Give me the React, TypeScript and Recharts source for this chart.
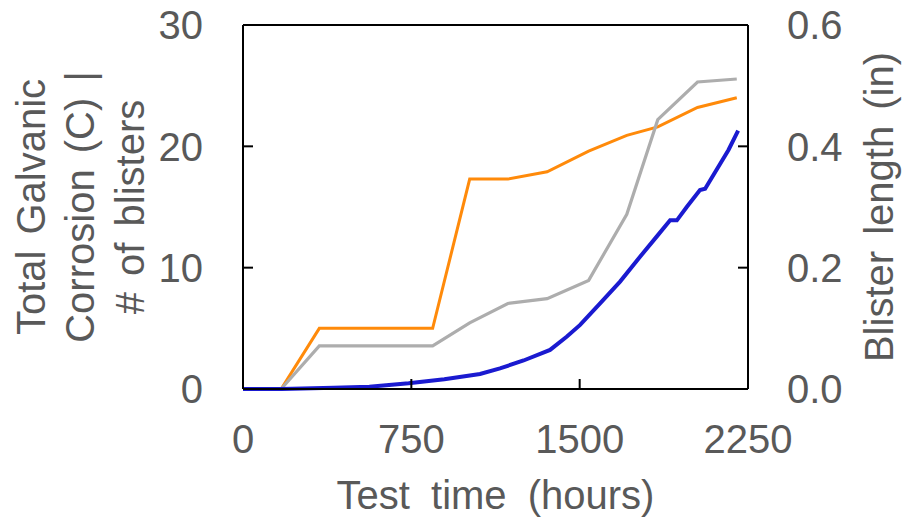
import { LineChart, Line, XAxis, YAxis, ReferenceLine } from "recharts";

// time axis (hours)
const xTicks = [0, 750, 1500, 2250];
const leftTicks = [0, 10, 20, 30];
const rightTicks = [0, 0.2, 0.4, 0.6];

// blister count
const blisterHours = [0, 170, 340, 845, 1010, 1180, 1355, 1540, 1710, 1848, 2025, 2200];
const blisterCount = [0, 0, 5, 5, 17.3, 17.3, 17.9, 19.6, 20.9, 21.6, 23.2, 24.0];

// blister length (in), grey line on right axis, same inspection times
const blisterLength = [0, 0, 0.071, 0.071, 0.109, 0.141, 0.149, 0.179, 0.288, 0.444, 0.506, 0.511];

// total galvanic corrosion (C), blue line
const corrHours = [0, 173, 404, 563, 738, 897, 1056, 1145, 1250, 1368, 1442, 1502, 1591, 1680, 1769, 1843, 1903, 1933, 1977, 2036, 2059, 2163, 2206];
const corrCharge = [0, 0, 0.11, 0.19, 0.47, 0.8, 1.24, 1.7, 2.35, 3.22, 4.31, 5.28, 7.06, 8.85, 10.9, 12.56, 13.9, 13.9, 15.0, 16.4, 16.5, 19.7, 21.3];

const countData = blisterHours.map((h, i) => ({ h, v: blisterCount[i] }));
const lengthData = blisterHours.map((h, i) => ({ h, v: blisterLength[i] }));
const corrData = corrHours.map((h, i) => ({ h, v: corrCharge[i] }));

const TEXT = "#595959";
const FONT = 40;

function RotatedLabel({ viewBox, lines, offsets }: any) {
  const cy = viewBox.y + viewBox.height / 2;
  return (
    <g>
      {lines.map((t: string, i: number) => (
        <text
          key={i}
          transform={`translate(${viewBox.x + offsets[i]},${cy}) rotate(-90)`}
          textAnchor="middle"
          fill={TEXT}
          fontSize={FONT}
          style={{ whiteSpace: "pre", wordSpacing: 5 }}
        >
          {t}
        </text>
      ))}
    </g>
  );
}

function BottomLabel({ viewBox }: any) {
  return (
    <text
      x={viewBox.x + viewBox.width / 2}
      y={viewBox.y + 120}
      textAnchor="middle"
      fill={TEXT}
      fontSize={FONT}
      style={{ whiteSpace: "pre", wordSpacing: 10 }}
    >
      Test time (hours)
    </text>
  );
}

const axisLine = { stroke: "#000", strokeWidth: 2 };
const tickStyle = { fill: TEXT, fontSize: FONT };

export default function App() {
  return (
    <div
      style={{
        position: "absolute",
        left: 0,
        top: 0,
        width: 902,
        height: 519,
        background: "#fff",
        fontFamily: "'Liberation Sans', Arial, sans-serif",
      }}
    >
      <LineChart width={902} height={519} margin={{ top: 25, right: 0, bottom: 0, left: 0 }}>
        <XAxis
          dataKey="h"
          type="number"
          domain={[0, 2250]}
          ticks={xTicks}
          height={130}
          tickSize={-10}
          tickMargin={46}
          axisLine={axisLine}
          tickLine={axisLine}
          tick={tickStyle}
          label={{ content: (p: any) => <BottomLabel {...p} /> }}
        />
        <YAxis
          yAxisId="left"
          domain={[0, 30]}
          ticks={leftTicks}
          width={243}
          tickSize={-10}
          tickMargin={50}
          axisLine={axisLine}
          tickLine={axisLine}
          tick={tickStyle}
          label={{
            content: (p: any) => (
              <RotatedLabel
                {...p}
                lines={["Total Galvanic", "Corrosion (C) |", "# of blisters"]}
                offsets={[45, 94, 144]}
              />
            ),
          }}
        />
        <YAxis
          yAxisId="right"
          orientation="right"
          domain={[0, 0.6]}
          ticks={rightTicks}
          width={154}
          tickSize={-10}
          tickMargin={49}
          axisLine={axisLine}
          tickLine={axisLine}
          tick={tickStyle}
          tickFormatter={(v: number) => v.toFixed(1)}
          label={{
            content: (p: any) => (
              <RotatedLabel {...p} lines={["Blister length (in)"]} offsets={[145]} />
            ),
          }}
        />
        <ReferenceLine yAxisId="left" y={30} stroke="#000" strokeWidth={2} />
        <Line
          yAxisId="left"
          data={countData}
          dataKey="v"
          stroke="#ff8a0a"
          strokeWidth={3}
          dot={false}
          isAnimationActive={false}
        />
        <Line
          yAxisId="right"
          data={lengthData}
          dataKey="v"
          stroke="#adadad"
          strokeWidth={3.2}
          dot={false}
          isAnimationActive={false}
        />
        <Line
          yAxisId="left"
          data={corrData}
          dataKey="v"
          stroke="#1a1ad0"
          strokeWidth={4}
          dot={false}
          isAnimationActive={false}
        />
      </LineChart>
    </div>
  );
}
